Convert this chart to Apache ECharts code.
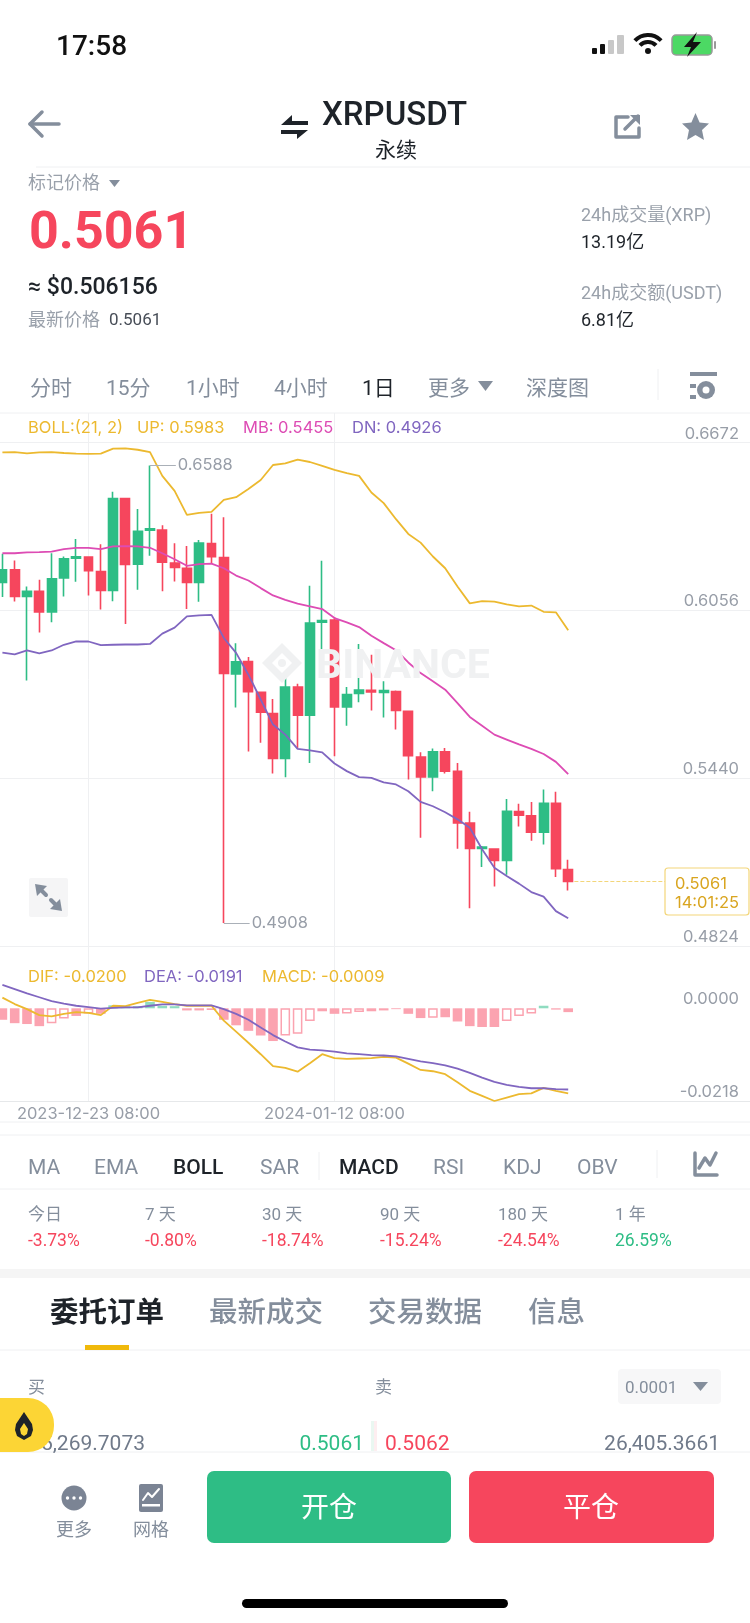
<!DOCTYPE html>
<html>
<head>
<meta charset="utf-8">
<title>XRPUSDT</title>
<script src="https://cdn.jsdelivr.net/npm/echarts@6/dist/echarts.min.js"></script>
<style>
  html, body { margin: 0; padding: 0; background: #fff; }
  #chart { width: 750px; height: 1623px; }
</style>
</head>
<body>
<div id="chart"></div>
<script>
const dates = [
  "2023-12-16 08:00", "2023-12-17 08:00", "2023-12-18 08:00", "2023-12-19 08:00", "2023-12-20 08:00",
  "2023-12-21 08:00", "2023-12-22 08:00", "2023-12-23 08:00", "2023-12-24 08:00", "2023-12-25 08:00",
  "2023-12-26 08:00", "2023-12-27 08:00", "2023-12-28 08:00", "2023-12-29 08:00", "2023-12-30 08:00",
  "2023-12-31 08:00", "2024-01-01 08:00", "2024-01-02 08:00", "2024-01-03 08:00", "2024-01-04 08:00",
  "2024-01-05 08:00", "2024-01-06 08:00", "2024-01-07 08:00", "2024-01-08 08:00", "2024-01-09 08:00",
  "2024-01-10 08:00", "2024-01-11 08:00", "2024-01-12 08:00", "2024-01-13 08:00", "2024-01-14 08:00",
  "2024-01-15 08:00", "2024-01-16 08:00", "2024-01-17 08:00", "2024-01-18 08:00", "2024-01-19 08:00",
  "2024-01-20 08:00", "2024-01-21 08:00", "2024-01-22 08:00", "2024-01-23 08:00", "2024-01-24 08:00",
  "2024-01-25 08:00", "2024-01-26 08:00", "2024-01-27 08:00", "2024-01-28 08:00", "2024-01-29 08:00",
  "2024-01-30 08:00", "2024-01-31 08:00",
];

// open, close, low, high
const ohlc = [
  [0.6159, 0.6205, 0.6105, 0.6264], [0.6205, 0.6107, 0.6089, 0.6239], [0.6107, 0.6126, 0.5799, 0.6144],
  [0.6126, 0.605, 0.5975, 0.6169], [0.605, 0.6172, 0.6013, 0.6266], [0.6175, 0.6246, 0.6107, 0.6254],
  [0.6248, 0.6253, 0.6161, 0.6318], [0.6252, 0.6202, 0.6111, 0.6254], [0.6199, 0.6129, 0.6059, 0.6299],
  [0.6129, 0.6467, 0.609, 0.6492], [0.6467, 0.6225, 0.6006, 0.647], [0.6226, 0.6347, 0.6132, 0.6428],
  [0.6351, 0.6356, 0.6257, 0.6588], [0.6351, 0.6233, 0.6126, 0.6369], [0.623, 0.6214, 0.6162, 0.6303],
  [0.6211, 0.6159, 0.6061, 0.6293], [0.6159, 0.6303, 0.6088, 0.6315], [0.6302, 0.6253, 0.6227, 0.6411],
  [0.625, 0.5825, 0.4908, 0.6398], [0.5823, 0.5867, 0.57, 0.5936], [0.5868, 0.5758, 0.5538, 0.5885],
  [0.5755, 0.5682, 0.557, 0.5758], [0.5677, 0.5513, 0.5457, 0.5731], [0.5513, 0.5775, 0.5444, 0.5814],
  [0.5775, 0.5671, 0.5548, 0.5787], [0.5671, 0.601, 0.5496, 0.6147], [0.6013, 0.6019, 0.5861, 0.6238],
  [0.6021, 0.5702, 0.5521, 0.6032], [0.5702, 0.5747, 0.5633, 0.5775], [0.5751, 0.5764, 0.5719, 0.5933],
  [0.5763, 0.5757, 0.5689, 0.5893], [0.5755, 0.5762, 0.5663, 0.5796], [0.5758, 0.5689, 0.5619, 0.5762],
  [0.5686, 0.5523, 0.5435, 0.5689], [0.5518, 0.5445, 0.5221, 0.5535], [0.5445, 0.5537, 0.5392, 0.5549],
  [0.5537, 0.5466, 0.5457, 0.5551], [0.5465, 0.5276, 0.5181, 0.5496], [0.5275, 0.5182, 0.4963, 0.5317],
  [0.5182, 0.5187, 0.5114, 0.5191], [0.518, 0.5138, 0.5042, 0.5181], [0.5138, 0.5319, 0.5086, 0.5364],
  [0.5318, 0.5304, 0.5263, 0.5346], [0.5302, 0.5242, 0.521, 0.5353], [0.5242, 0.5348, 0.5197, 0.5399],
  [0.5348, 0.5108, 0.5077, 0.539], [0.5105, 0.5061, 0.5028, 0.5141],
];

const bollUp = [
  0.6636, 0.6637, 0.6633, 0.6636, 0.6637, 0.6634, 0.6632, 0.6631, 0.6632, 0.665, 0.6651, 0.6646,
  0.6637, 0.655, 0.6495, 0.6407, 0.6414, 0.6418, 0.6462, 0.6472, 0.6502, 0.6535, 0.659, 0.6596,
  0.661, 0.6601, 0.6587, 0.6572, 0.656, 0.655, 0.6489, 0.645, 0.6391, 0.6337, 0.6305, 0.6254,
  0.6211, 0.6144, 0.6082, 0.609, 0.6088, 0.6078, 0.6071, 0.6074, 0.6051, 0.6049, 0.5983,
];
const bollMid = [
  0.6266, 0.6266, 0.6269, 0.627, 0.6272, 0.6281, 0.6286, 0.6286, 0.6281, 0.6291, 0.6292, 0.6291,
  0.6286, 0.6266, 0.6244, 0.622, 0.6226, 0.6228, 0.6211, 0.6184, 0.6166, 0.6138, 0.6111, 0.6095,
  0.6081, 0.6071, 0.6061, 0.6028, 0.6012, 0.5995, 0.5963, 0.5936, 0.591, 0.5865, 0.5826, 0.5796,
  0.5765, 0.5716, 0.5665, 0.5633, 0.56, 0.5582, 0.5564, 0.5548, 0.5529, 0.55, 0.5455,
];
const bollDown = [
  0.5901, 0.5895, 0.5909, 0.5898, 0.5909, 0.593, 0.5942, 0.5942, 0.5929, 0.593, 0.5931, 0.5931,
  0.5933, 0.5971, 0.5993, 0.6034, 0.6038, 0.604, 0.5955, 0.59, 0.582, 0.5729, 0.5637, 0.56,
  0.5548, 0.5542, 0.5535, 0.5494, 0.5466, 0.5444, 0.5441, 0.5425, 0.5417, 0.5392, 0.5353, 0.5337,
  0.5315, 0.5289, 0.5258, 0.5179, 0.5111, 0.5081, 0.5053, 0.5022, 0.5005, 0.4952, 0.4926,
];
const dif = [
  0.0025, 0.001, -0.0002, -0.0016, -0.0019, -0.0013, -0.0009, -0.0011, -0.0016, 0.0006, 0.0005, 0.0013,
  0.002, 0.0015, 0.001, 0.0006, 0.0006, 0.0006, -0.0029, -0.0055, -0.0081, -0.0108, -0.0136, -0.014,
  -0.0149, -0.0129, -0.0108, -0.0117, -0.0119, -0.0118, -0.0117, -0.0114, -0.0116, -0.013, -0.0145, -0.0148,
  -0.0155, -0.0174, -0.0194, -0.0206, -0.0218, -0.021, -0.0202, -0.02, -0.0187, -0.0194, -0.02,
];
const dea = [
  0.0055, 0.0045, 0.0035, 0.0026, 0.0017, 0.0011, 0.0006, 0.0003, -0.0001, 0.0001, 0.0002, 0.0002,
  0.0006, 0.0009, 0.0009, 0.0007, 0.0007, 0.0007, -0.0002, -0.0013, -0.0027, -0.0045, -0.0063, -0.0078,
  -0.0092, -0.0097, -0.0099, -0.0102, -0.0106, -0.0108, -0.011, -0.0111, -0.0113, -0.0119, -0.0125, -0.0129,
  -0.0134, -0.0142, -0.0152, -0.0163, -0.0173, -0.018, -0.0185, -0.0188, -0.0188, -0.019, -0.0191,
];
const macd = [
  -0.0027, -0.0035, -0.0037, -0.0042, -0.0035, -0.0024, -0.0018, -0.0012, -0.0013, 0.0007, 0.0005, 0.0005,
  0.0015, 0.0006, 0.0005, -0.0005, -0.0005, -0.0004, -0.0027, -0.004, -0.0053, -0.0064, -0.0077, -0.0064,
  -0.006, -0.003, -0.0007, -0.0013, -0.0012, -0.0009, -0.0007, -0.0005, -0.0002, -0.0013, -0.0023, -0.0022,
  -0.0021, -0.0031, -0.0042, -0.0044, -0.0044, -0.003, -0.0018, -0.0012, 0.0006, -0.0003, -0.0009,
];
const macdHollow = [4, 5, 7, 17, 23, 24, 25, 26, 28, 29, 30, 35, 41, 42, 43];

const priceTicks = [0.4824, 0.544, 0.6056, 0.6672];
const macdTicks = [-0.0218, 0];
const dateTickIndex = [7, 27];

const GREEN = "#2ebd85", RED = "#f6465d", GRAY = "#848e9c", DARK = "#1e2329", LINE = "#eff0f2";
const YELLOW = "#ecb92f", PINK = "#dd4cb4", PURPLE = "#8066c0", TICK = "#989ea8";
const SANS = 'Roboto, "Noto Sans CJK SC", sans-serif';
const CHART_FONT = 'Inter, "Noto Sans CJK SC", sans-serif';
const CHART_SIZE = 16.5;

const xy = (arr) => arr.map((v, i) => [i, v]);

const els = [];
function text(x, y, str, o) {
  o = o || {};
  const size = o.size || 18;
  els.push({
    // middle alignment sits high for these fonts, so nudge it down
    type: "text", x: x, y: y + size * 0.12, z: o.z || 10, silent: true,
    style: {
      text: str, fill: o.color || GRAY, fontSize: size, fontWeight: o.weight || 400,
      fontFamily: o.font || SANS, align: o.align || "left", verticalAlign: "middle",
    },
  });
}
function rect(x, y, w, h, fill, r, o) {
  o = o || {};
  els.push({
    type: "rect", z: o.z || 8, silent: true, shape: { x: x, y: y, width: w, height: h, r: r || 0 },
    style: { fill: fill, stroke: o.stroke || null, lineWidth: o.lineWidth || 0 },
  });
}
function hline(y, x0, x1, color) {
  els.push({ type: "line", z: 1, silent: true, shape: { x1: x0, y1: y, x2: x1, y2: y }, style: { stroke: color || LINE, lineWidth: 1 } });
}
function vline(x, y0, y1, color) {
  els.push({ type: "line", z: 1, silent: true, shape: { x1: x, y1: y0, x2: x, y2: y1 }, style: { stroke: color || LINE, lineWidth: 1 } });
}
function poly(points, fill, z) {
  els.push({ type: "polygon", z: z || 10, silent: true, shape: { points: points }, style: { fill: fill } });
}
function stroke(points, color, width, z) {
  els.push({ type: "polyline", z: z || 10, silent: true, shape: { points: points }, style: { stroke: color, lineWidth: width, fill: null, lineCap: "round", lineJoin: "round" } });
}
function arc(cx, cy, r, w, color) {
  els.push({
    type: "arc", z: 10, silent: true,
    shape: { cx: cx, cy: cy, r: r, startAngle: -Math.PI * 0.76, endAngle: -Math.PI * 0.24, clockwise: true },
    style: { stroke: color, lineWidth: w, fill: null },
  });
}
function circle(cx, cy, r, fill, z) {
  els.push({ type: "circle", z: z || 10, silent: true, shape: { cx: cx, cy: cy, r: r }, style: { fill: fill } });
}

// status bar
text(56, 45, "17:58", { size: 28, weight: 500, color: "#111" });
rect(592, 48, 5, 6, "#111", 1);
rect(600, 44, 5, 10, "#111", 1);
rect(608, 40, 6, 14, "#c8c8c8", 1);
rect(617, 35, 7, 19, "#c8c8c8", 1);
arc(648, 53, 18, 4, "#111");
arc(648, 53, 11, 4, "#111");
circle(648, 51, 3, "#111");
rect(672, 35, 40, 20, "#4cd964", 4, { stroke: "#999", lineWidth: 1.5 });
rect(714, 41, 2, 8, "#999", 1);
poly([[697, 32], [684, 47], [691, 47], [687, 57], [701, 42], [693, 42]], "#111");

// header
stroke([[42, 112], [30, 124], [42, 136]], GRAY, 3.5);
stroke([[30, 124], [59, 124]], GRAY, 3.5);
poly([[281, 125], [292, 115], [292, 121], [308, 121], [308, 125]], DARK);
poly([[281, 130], [308, 130], [297, 139], [297, 134], [281, 134]], DARK);
text(322, 113, "XRPUSDT", { size: 33, weight: 500, color: DARK });
text(396, 149, "永续", { size: 21, color: DARK, align: "center" });
stroke([[628, 117], [616, 117], [616, 137], [639, 137], [639, 128]], GRAY, 3.5);
stroke([[625, 129], [638, 116]], GRAY, 3.5);
poly([[630, 115], [640, 115], [640, 125]], GRAY);
poly([[695.5, 113], [699.6, 122.5], [709, 123.5], [702, 130], [704, 140], [695.5, 135], [687, 140], [689, 130], [682, 123.5], [691.4, 122.5]], GRAY);
hline(167, 36, 750);

// price block
text(28, 182, "标记价格", { size: 18, color: "#9aa1ab" });
poly([[109, 180], [120, 180], [114.5, 187]], GRAY);
text(29, 229, "0.5061", { size: 52, weight: 700, color: RED });
text(28, 285, "≈ $0.506156", { size: 23, weight: 500, color: DARK });
text(28, 319, "最新价格", { size: 18, color: "#9aa1ab" });
text(109, 319, "0.5061", { size: 17, color: "#474d57" });
text(581, 214, "24h成交量(XRP)", { size: 18, color: "#9aa1ab" });
text(581, 241, "13.19亿", { size: 18, color: DARK });
text(581, 292, "24h成交额(USDT)", { size: 18, color: "#9aa1ab" });
text(581, 319, "6.81亿", { size: 18, color: DARK });

// period tabs
text(30, 387, "分时", { size: 21 });
text(106, 387, "15分", { size: 21 });
text(186, 387, "1小时", { size: 21 });
text(274, 387, "4小时", { size: 21 });
text(362, 387, "1日", { size: 21, color: DARK });
text(428, 387, "更多", { size: 21 });
poly([[478, 381], [493, 381], [485.5, 391]], GRAY);
text(526, 387, "深度图", { size: 21 });
vline(658, 369, 400);
rect(690, 372, 27, 4, GRAY);
rect(690, 384, 6, 4, GRAY);
rect(690, 395, 6, 4, GRAY);
circle(706, 390, 9, GRAY);
circle(706, 390, 3.5, "#fff", 11);

// indicator captions and top rule of the chart
hline(413, 0, 750);
text(28, 426, "BOLL:(21, 2)", { size: CHART_SIZE, color: YELLOW, font: CHART_FONT });
text(137, 426, "UP: 0.5983", { size: CHART_SIZE, color: YELLOW, font: CHART_FONT });
text(243, 426, "MB: 0.5455", { size: CHART_SIZE, color: PINK, font: CHART_FONT });
text(352, 426, "DN: 0.4926", { size: CHART_SIZE, color: PURPLE, font: CHART_FONT });
text(28, 975, "DIF: -0.0200", { size: CHART_SIZE, color: YELLOW, font: CHART_FONT });
text(144, 975, "DEA: -0.0191", { size: CHART_SIZE, color: PURPLE, font: CHART_FONT });
text(262, 975, "MACD: -0.0009", { size: CHART_SIZE, color: YELLOW, font: CHART_FONT });

// watermark
poly([[282, 643], [302, 663], [282, 683], [262, 663]], "#f0f1f2", 0);
poly([[282, 653], [292, 663], [282, 673], [272, 663]], "#fff", 0);
circle(282, 663, 4, "#f0f1f2", 0);
text(316, 663, "BINANCE", { size: 41, weight: 700, color: "#f0f1f2", z: 0 });

// expand button
rect(29, 878, 39, 39, "#f5f5f6", 2);
poly([[35, 884], [47, 886], [37, 896]], GRAY);
poly([[62, 911], [50, 909], [60, 899]], GRAY);
stroke([[40, 889], [46, 895]], GRAY, 4);
stroke([[51, 900], [57, 906]], GRAY, 4);

// last price box
rect(665, 868, 84, 47, "#fff", 3, { stroke: "#f3d67a", lineWidth: 1.2 });
text(675, 882, "0.5061", { size: CHART_SIZE, color: "#d9a520", font: CHART_FONT });
text(675, 901, "14:01:25", { size: CHART_SIZE, color: "#d9a520", font: CHART_FONT });

// indicator tabs
hline(1122, 0, 750);
hline(1135, 0, 750);
hline(1189, 0, 750);
text(28, 1166, "MA", { size: 21 });
text(94, 1166, "EMA", { size: 21 });
text(173, 1166, "BOLL", { size: 21, weight: 500, color: DARK });
text(260, 1166, "SAR", { size: 21 });
vline(319, 1152, 1180);
text(339, 1166, "MACD", { size: 21, weight: 500, color: DARK });
text(433, 1166, "RSI", { size: 21 });
text(503, 1166, "KDJ", { size: 21 });
text(577, 1166, "OBV", { size: 21 });
vline(657, 1150, 1178);
stroke([[695, 1153], [695, 1175], [717, 1175]], GRAY, 3.5);
stroke([[699, 1168], [705, 1158], [710, 1165], [716, 1153]], GRAY, 3.5);

// change per period
const periodX = [28, 145, 262, 380, 498, 615];
const periodLabels = ["今日", "7 天", "30 天", "90 天", "180 天", "1 年"];
const periodValues = ["-3.73%", "-0.80%", "-18.74%", "-15.24%", "-24.54%", "26.59%"];
periodLabels.forEach(function (label, i) {
  text(periodX[i], 1214, label, { size: 17 });
  text(periodX[i], 1240, periodValues[i], { size: 17.5, color: periodValues[i][0] === "-" ? RED : GREEN });
});
rect(0, 1269, 750, 9, "#f5f5f5");

// order book tabs
text(50, 1311, "委托订单", { size: 28.5, weight: 700, color: DARK });
text(209, 1311, "最新成交", { size: 28.5, weight: 500 });
text(368, 1311, "交易数据", { size: 28.5, weight: 500 });
text(528, 1311, "信息", { size: 28.5, weight: 500 });
rect(85, 1345, 44, 5, "#f0b90b");
hline(1350, 0, 750);

text(28, 1387, "买", { size: 17 });
text(375, 1387, "卖", { size: 17 });
rect(618, 1369, 103, 35, "#f7f7f8", 4);
text(625, 1387, "0.0001", { size: 17 });
poly([[693, 1382], [708, 1382], [700.5, 1391]], GRAY);

rect(371, 1421, 3, 30, "#eaf7f1");
rect(374, 1421, 3, 30, "#fdeef0");
text(145, 1442, "5,269.7073", { size: 21, color: "#707a8a", align: "right" });
text(364, 1442, "0.5061", { size: 21, color: GREEN, align: "right" });
text(385, 1442, "0.5062", { size: 21, color: RED });
text(720, 1442, "26,405.3661", { size: 21, color: "#707a8a", align: "right" });
hline(1452, 0, 750);
rect(0, 1398, 54, 54, "#fcd535", [0, 26, 26, 0], { z: 12 });
// flame
poly([[24, 1412], [28, 1418], [32, 1424], [33, 1430], [31, 1436], [24, 1440], [17, 1436], [15, 1430], [16, 1424], [20, 1418]], "#1e2329", 13);
poly([[24, 1423], [28, 1429], [27, 1434], [24, 1436], [21, 1434], [20, 1429]], "#fcd535", 14);

// bottom bar
circle(74, 1498, 12.5, "#7b8494");
circle(67.5, 1498, 1.7, "#fff", 11);
circle(74, 1498, 1.7, "#fff", 11);
circle(80.5, 1498, 1.7, "#fff", 11);
text(74, 1529, "更多", { size: 18, align: "center" });
rect(139, 1484, 24, 28, "#7b8494", 2);
stroke([[143, 1500], [148, 1493], [152, 1497], [159, 1489]], "#fff", 2, 11);
rect(142, 1504, 18, 2.5, "#fff", 0, { z: 11 });
text(151, 1529, "网格", { size: 18, align: "center" });
rect(207, 1471, 244, 72, GREEN, 7);
text(329, 1507, "开仓", { size: 28, color: "#fff", align: "center" });
rect(469, 1471, 245, 72, RED, 7);
text(591, 1507, "平仓", { size: 28, color: "#fff", align: "center" });
rect(242, 1599, 266, 9, "#000", 4.5);

const macdData = macd.map(function (v, i) {
  const color = v > 0 ? "#8fdcc0" : "#fba3b0";
  const hollow = macdHollow.includes(i);
  return {
    value: [i, v],
    itemStyle: hollow ? { color: "#fff", borderColor: color, borderWidth: 1.5 } : { color: color },
  };
});

function lineSeries(name, data, color, axis) {
  return {
    name: name, type: "line", data: xy(data), xAxisIndex: axis, yAxisIndex: axis,
    symbol: "none", z: 4, silent: true,
    lineStyle: { color: color, width: 1.8 },
  };
}

function leader(index, value, endIndex, label) {
  return [
    {
      coord: [index, value],
      lineStyle: { color: "#aab0b8", width: 1, type: "solid" },
      label: { show: true, position: "end", distance: 2, formatter: label, color: TICK, fontSize: CHART_SIZE, fontFamily: CHART_FONT },
    },
    { coord: [endIndex, value] },
  ];
}

// candle i sits at 2.4 + 12.3 * i px, the axis runs over the whole 750 px
const axisX = {
  type: "value", min: -0.1951, max: 60.7805,
  axisTick: { show: false, customValues: dateTickIndex },
  splitLine: { show: true, lineStyle: { color: LINE, width: 1 } },
};

const option = {
  animation: false,
  backgroundColor: "#fff",
  graphic: { elements: els },
  grid: [
    { left: 0, width: 750, top: 413, height: 533 },
    { left: 0, width: 750, top: 946, height: 155 },
  ],
  xAxis: [
    Object.assign({}, axisX, { gridIndex: 0, axisLine: { show: false }, axisLabel: { show: false } }),
    Object.assign({}, axisX, {
      gridIndex: 1,
      axisLine: { show: true, onZero: false, lineStyle: { color: "#e6e8ea", width: 1 } },
      axisLabel: {
        show: true, customValues: dateTickIndex, margin: 5, color: TICK, fontSize: CHART_SIZE, fontFamily: CHART_FONT,
        formatter: (v) => dates[v],
      },
    }),
  ],
  yAxis: [
    {
      type: "value", gridIndex: 0, position: "right", min: 0.4824, max: 0.67809,
      axisLine: { show: false },
      axisTick: { show: false, customValues: priceTicks },
      splitLine: { show: true, lineStyle: { color: LINE, width: 1 } },
      axisLabel: {
        inside: true, customValues: priceTicks, margin: 11, color: TICK, fontSize: CHART_SIZE, fontFamily: CHART_FONT,
        verticalAlign: "bottom", lineHeight: 18, formatter: (v) => v.toFixed(4),
      },
    },
    {
      type: "value", gridIndex: 1, position: "right", min: -0.0218, max: 0.01465,
      axisLine: { show: false },
      axisTick: { show: false, customValues: macdTicks },
      splitLine: { show: false },
      axisLabel: {
        inside: true, customValues: macdTicks, margin: 11, color: TICK, fontSize: CHART_SIZE, fontFamily: CHART_FONT,
        verticalAlign: "bottom", lineHeight: 18, formatter: (v) => v.toFixed(4),
      },
    },
  ],
  series: [
    {
      type: "candlestick", xAxisIndex: 0, yAxisIndex: 0, barWidth: 9.4, silent: true, z: 2,
      data: ohlc.map((d, i) => [i].concat(d)),
      encode: { x: 0, y: [1, 2, 3, 4] },
      itemStyle: { color: GREEN, color0: RED, borderColor: GREEN, borderColor0: RED, borderWidth: 1.6 },
      markLine: {
        silent: true, symbol: "none", animation: false,
        data: [
          leader(12, 0.6588, 14.1, "0.6588"),
          leader(18, 0.4908, 20.1, "0.4908"),
          [
            { coord: [46.5, 0.5061], lineStyle: { color: "#f3d67a", width: 1, type: "dashed" }, label: { show: false } },
            { coord: [53.87, 0.5061] },
          ],
        ],
      },
    },
    lineSeries("UP", bollUp, YELLOW, 0),
    lineSeries("MB", bollMid, PINK, 0),
    lineSeries("DN", bollDown, PURPLE, 0),
    {
      type: "bar", xAxisIndex: 1, yAxisIndex: 1, barWidth: 9.6, silent: true, z: 2,
      data: macdData,
    },
    lineSeries("DIF", dif, YELLOW, 1),
    lineSeries("DEA", dea, PURPLE, 1),
  ],
};

const chart = echarts.init(document.getElementById("chart"), null, { width: 750, height: 1623 });
chart.setOption(option);
</script>
</body>
</html>
